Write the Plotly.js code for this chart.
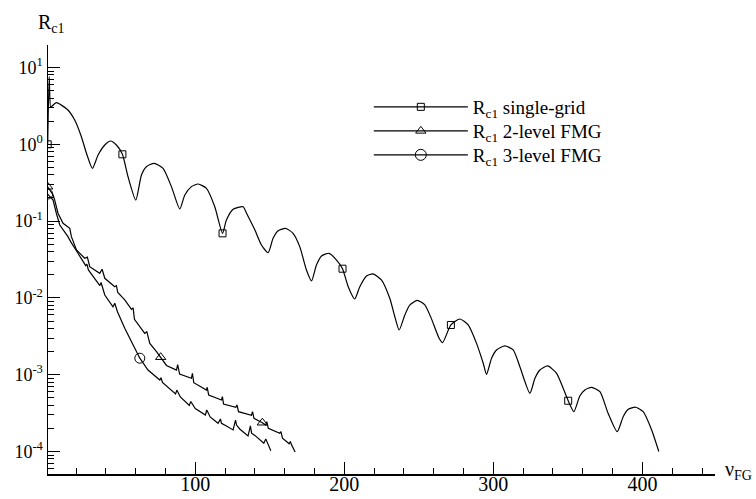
<!DOCTYPE html>
<html>
<head>
<meta charset="utf-8">
<script src="https://cdn.plot.ly/plotly-3.0.1.min.js"></script>
<style>html,body{margin:0;padding:0;background:#fff;}#chart{width:756px;height:499px;}</style>
</head>
<body>
<div id="chart"></div>
<script>
// ---- data ----
const seriesNames = ['R<sub>c1</sub> single-grid', 'R<sub>c1</sub> 2-level FMG', 'R<sub>c1</sub> 3-level FMG'];

const nuSingle = [1, 2, 3, 4, 6.8, 14.6, 19.1, 23.6, 27, 31, 34.8, 39.3, 43.1, 47.1, 51.1, 54.9, 60.1, 63.9, 67.2, 72.4,
  78.4, 84, 89.6, 93, 97.4, 101.9, 107.5, 113.1, 118.3, 120.9, 125.4, 132.1, 134.4, 140, 144.4, 148.9, 152.2, 155.6, 160.7, 165.6,
  170.1, 174.6, 178, 181.3, 184.7, 189.8, 194.8, 198.8, 202.6, 207, 210.4, 214.9, 219.3, 225, 230.5, 233.9, 236.8, 240.6, 244, 248.9,
  254, 258, 263.6, 265.9, 271.5, 277.5, 283.1, 288.7, 293.2, 295.4, 298.8, 302.1, 307.7, 313.3, 317.8, 324.5, 327.9, 331.2, 336.4, 342.4,
  350.2, 354, 358, 361.4, 365.9, 371.5, 377, 383.1, 387.1, 390.5, 395.4, 400.5, 406.2, 411];
const rSingle = [1.0, 7.59, 3.02, 3.16, 3.48, 2.80, 2.07, 1.256, 0.764, 0.486, 0.726, 0.979, 1.104, 0.979, 0.741, 0.378, 0.188, 0.398, 0.511, 0.566,
  0.486, 0.281, 0.144, 0.219, 0.281, 0.304, 0.267, 0.154, 0.0693, 0.1033, 0.1426, 0.1538, 0.1265, 0.0766, 0.0489, 0.0388, 0.0597, 0.0750, 0.0805, 0.0693,
  0.0465, 0.0231, 0.0166, 0.0268, 0.0352, 0.0381, 0.0311, 0.0240, 0.0140, 0.00968, 0.0140, 0.0193, 0.0205, 0.0171, 0.00989, 0.00569, 0.00382, 0.00598, 0.00809, 0.00931,
  0.00809, 0.00562, 0.00298, 0.00261, 0.00444, 0.00531, 0.00444, 0.00256, 0.00141, 0.00101, 0.00164, 0.00210, 0.00237, 0.00210, 0.00127, 0.000573, 0.000897, 0.00115, 0.00130, 0.00104,
  0.000458, 0.000330, 0.000528, 0.000632, 0.000685, 0.000601, 0.000314, 0.000181, 0.000284, 0.000354, 0.000377, 0.000330, 0.000191, 0.000100];

const nu2Level = [1, 4.6, 5.7, 7.9, 11.3, 15.8, 16.9, 20.3, 25.8, 27.6, 29.2, 35.9, 37.5, 39.3, 46, 47.1, 48, 52.7, 57.2, 58.3,
  59.2, 66.1, 67.5, 69.5, 74, 76.8, 80.7, 87.4, 88.2, 89.5, 97.4, 98.1, 99, 107.5, 108, 109, 117.6, 118.2, 119, 127.2,
  128, 129, 137.7, 138.4, 139.4, 145, 147.3, 148, 149, 156.7, 157.5, 158.5, 163, 163.8, 164.6, 167];
const r2Level = [0.28, 0.219, 0.188, 0.1265, 0.0935, 0.0805, 0.0627, 0.0421, 0.0328, 0.0339, 0.0255, 0.0209, 0.0236, 0.0180, 0.0140, 0.01445, 0.01175, 0.0094, 0.00708, 0.00741,
  0.00525, 0.00346, 0.00363, 0.00256, 0.0020, 0.00169, 0.00132, 0.00115, 0.00135, 0.00102, 0.000897, 0.00104, 0.000787, 0.000632, 0.000686, 0.000545, 0.000469, 0.000518, 0.000415, 0.000377,
  0.000404, 0.00033, 0.000296, 0.00033, 0.00027, 0.000237, 0.000221, 0.000245, 0.0002, 0.000173, 0.000181, 0.000149, 0.000126, 0.000135, 0.000122, 0.0000982];

const nu3Level = [1, 4.6, 6.8, 9.1, 14.6, 16.4, 21.3, 26.5, 27.3, 28.3, 36, 36.8, 39.3, 44.8, 46, 47.8, 52.7, 57.6, 62.8, 68.3,
  76.2, 77, 78, 86.8, 87.6, 90, 96, 97, 100, 106.8, 107.7, 110, 115.3, 116.9, 117.6, 120, 125.4, 127, 127.7, 130,
  135.4, 137, 137.8, 140, 146, 147.3, 150.7];
const r3Level = [0.225, 0.188, 0.1265, 0.0889, 0.0627, 0.054, 0.0381, 0.0263, 0.0275, 0.0231, 0.01445, 0.01585, 0.01091, 0.00767, 0.00851, 0.00661, 0.00402, 0.00256, 0.00164, 0.00115,
  0.000853, 0.000912, 0.000794, 0.000562, 0.000631, 0.000513, 0.000398, 0.000447, 0.000363, 0.000299, 0.000347, 0.000282, 0.000233, 0.000265, 0.000233, 0.000219, 0.000191, 0.000257, 0.000221, 0.000195,
  0.000159, 0.000215, 0.000173, 0.000162, 0.000128, 0.000146, 0.000102];

// symbol positions (points of the series that carry a symbol)
const markNuSingle = [1, 51.1, 118.3, 198.8, 271.5, 350.2];
const markRSingle = [1.0, 0.741, 0.0693, 0.0240, 0.00444, 0.000458];
const markNu2 = [1, 76.8, 145];
const markR2 = [0.28, 0.00169, 0.000237];
const markNu3 = [1, 62.8];
const markR3 = [0.225, 0.00164];

// ticks
const xTickVals = [100, 200, 300, 400];
const xTickText = ['100', '200', '300', '400'];
const yTickVals = [1e-4, 1e-3, 1e-2, 1e-1, 1, 10];
const yTickText = ['10<sup>-4</sup>', '10<sup>-3</sup>', '10<sup>-2</sup>', '10<sup>-1</sup>', '10<sup>0</sup>', '10<sup>1</sup>'];

// ---- build ----
const FONT = '"Liberation Serif", "Times New Roman", serif';
const symbols = ['square-open', 'triangle-up-open', 'circle-open'];
const symSizes = [7, 9, 10];
const legSizes = [7, 9, 11];
const legendIds = ['legend', 'legend2', 'legend3'];
const legendRowY = [0.8555, 0.7995, 0.7436];
const lines = [[nuSingle, rSingle], [nu2Level, r2Level], [nu3Level, r3Level]];
const marks = [[markNuSingle, markRSingle], [markNu2, markR2], [markNu3, markR3]];

const minorY = [];
for (let e = -5; e <= 1; e++) for (let d = 2; d <= 9; d++) minorY.push(d * Math.pow(10, e));

const traces = [];
lines.forEach((l, i) => {
  traces.push({x: l[0], y: l[1], mode: 'lines', type: 'scatter', showlegend: false,
    line: {color: '#000', width: 1.2, shape: i === 0 ? 'spline' : 'linear', smoothing: 0.6}, hoverinfo: 'skip'});
});
marks.forEach((m, i) => {
  traces.push({x: m[0], y: m[1], mode: 'markers', type: 'scatter', showlegend: false,
    marker: {symbol: symbols[i], size: symSizes[i], color: '#000', line: {width: 1, color: '#000'}}, hoverinfo: 'skip'});
});
seriesNames.forEach((n, i) => {
  traces.push({x: [null], y: [null], name: n, mode: 'lines+markers', type: 'scatter', legend: legendIds[i],
    line: {color: '#000', width: 1.2}, marker: {symbol: symbols[i], size: legSizes[i], color: '#000', line: {width: 1, color: '#000'}}});
});

const layout = {
  width: 756, height: 499,
  margin: {l: 48, r: 41, t: 45, b: 25},
  paper_bgcolor: '#fff', plot_bgcolor: '#fff',
  font: {family: FONT, color: '#000', size: 18},
  showlegend: true,
  xaxis: {range: [1.2, 448.7], showgrid: false, zeroline: false, showline: true, linecolor: '#000', linewidth: 1.5,
    ticks: 'inside', ticklen: 12, tickwidth: 1, tickcolor: '#000', tickmode: 'array', tickvals: xTickVals, ticktext: xTickText,
    tickfont: {family: FONT, size: 20, color: '#000'}, ticklabelstandoff: -9,
    minor: {ticks: 'inside', ticklen: 6, tickwidth: 1, tickcolor: '#000', dtick: 20, tick0: 0, showgrid: false}},
  yaxis: {type: 'log', range: [-4.293, 1.293], showgrid: false, zeroline: false, showline: true, linecolor: '#000', linewidth: 1.5,
    ticks: 'inside', ticklen: 12, tickwidth: 1, tickcolor: '#000', tickmode: 'array', tickvals: yTickVals, ticktext: yTickText,
    tickfont: {family: FONT, size: 18, color: '#000'},
    minor: {ticks: 'inside', ticklen: 6, tickwidth: 1, tickcolor: '#000', tickmode: 'array', tickvals: minorY, showgrid: false}},
  annotations: [
    {text: 'R<sub>c1</sub>', xref: 'paper', yref: 'paper', x: 0.005, y: 1.0, yshift: 22, xanchor: 'center', yanchor: 'middle', showarrow: false,
      font: {family: FONT, size: 20, color: '#000'}},
    {text: 'ν<sub>FG</sub>', xref: 'paper', yref: 'paper', x: 1.0, xshift: 23, y: 0.0, yshift: 4, xanchor: 'center', yanchor: 'middle', showarrow: false,
      font: {family: FONT, size: 20, color: '#000'}}
  ]
};
legendIds.forEach((id, i) => {
  layout[id] = {x: 0.481, y: legendRowY[i], xanchor: 'left', yanchor: 'middle', bgcolor: 'rgba(0,0,0,0)',
    font: {family: FONT, size: 19, color: '#000'}, itemwidth: 94, tracegroupgap: 0};
});

Plotly.newPlot('chart', traces, layout, {displayModeBar: false, staticPlot: true});
</script>
</body>
</html>
